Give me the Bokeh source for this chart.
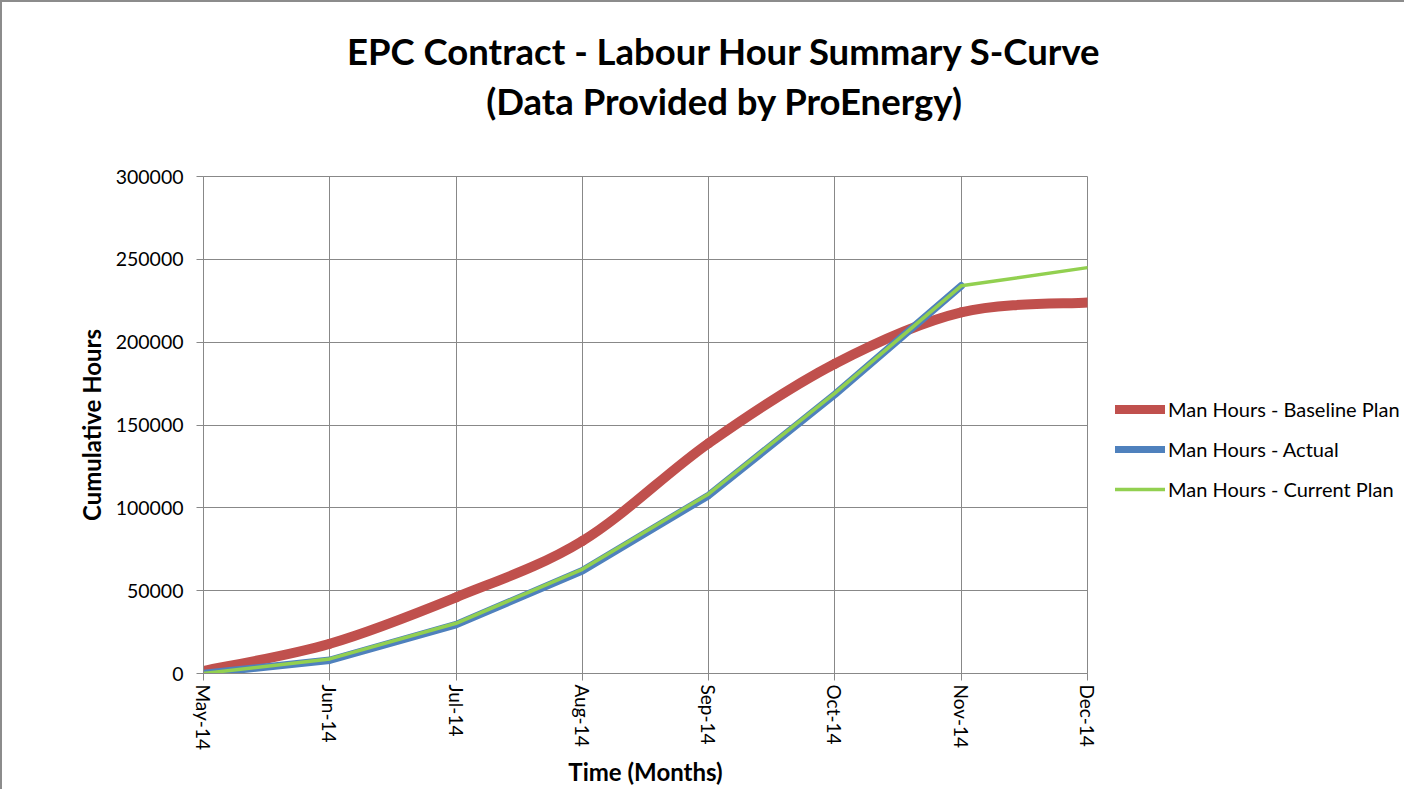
import math
from bokeh.plotting import figure
from bokeh.layouts import row, column
from bokeh.models import Range1d, FixedTicker, Legend, LegendItem, Label, ColumnDataSource
from bokeh.embed import file_html
from bokeh.resources import INLINE

# ---- data ----
months = ["May-14", "Jun-14", "Jul-14", "Aug-14", "Sep-14", "Oct-14", "Nov-14", "Dec-14"]
baseline = [1500, 18000, 46000, 80000, 139000, 187000, 218000, 224000]
actual = [0, 8000, 29500, 62000, 107500, 168500, 234000]
current = [0, 8800, 30300, 62900, 108400, 169200, 234000, 245000]
y_ticks = [0, 50000, 100000, 150000, 200000, 250000, 300000]
y_tick_labels = ["0", "50000", "100000", "150000", "200000", "250000", "300000"]

title_line1 = "EPC Contract - Labour Hour Summary S-Curve"
title_line2 = "(Data Provided by ProEnergy)"
series_names = ["Man Hours - Baseline Plan", "Man Hours - Actual", "Man Hours - Current Plan"]

RED = "#C0504D"
BLUE = "#4F81BD"
GREEN = "#92D050"
GRID = "#888888"
FONT = "Lato"

# smoothed (Excel-like Catmull-Rom Bezier) segments for the baseline plan
xs = list(range(len(baseline)))
n = len(baseline)
seg = dict(x0=[], y0=[], x1=[], y1=[], cx0=[], cy0=[], cx1=[], cy1=[])
for i in range(n - 1):
    pm = max(i - 1, 0)
    pp = min(i + 2, n - 1)
    seg["x0"].append(xs[i]); seg["y0"].append(baseline[i])
    seg["x1"].append(xs[i + 1]); seg["y1"].append(baseline[i + 1])
    seg["cx0"].append(xs[i] + (xs[i + 1] - xs[pm]) / 6.0)
    seg["cy0"].append(baseline[i] + (baseline[i + 1] - baseline[pm]) / 6.0)
    seg["cx1"].append(xs[i + 1] - (xs[pp] - xs[i]) / 6.0)
    seg["cy1"].append(baseline[i + 1] - (baseline[pp] - baseline[i]) / 6.0)
seg_src = ColumnDataSource(seg)


def blank_fig(w, h, xr=(0, 1), yr=(0, 1)):
    f = figure(width=w, height=h, x_range=Range1d(*xr), y_range=Range1d(*yr),
               output_backend="svg", toolbar_location=None,
               x_axis_location=None, y_axis_location=None,
               min_border_left=0, min_border_right=0, min_border_top=0, min_border_bottom=0)
    f.grid.visible = False
    f.outline_line_color = None
    return f


# ---- title area ----
top = blank_fig(1400, 149)
for txt, yy in zip([title_line1, title_line2], [101, 51]):
    top.add_layout(Label(x=722, y=yy, x_units="screen", y_units="screen", text=txt,
                         text_align="center", text_baseline="middle",
                         text_font=FONT, text_font_style="bold",
                         text_font_size="36.5px", text_color="#000000"))

# ---- main chart ----
p = figure(width=1100, height=638,
           x_range=Range1d(0, len(months) - 1), y_range=Range1d(0, 300000),
           output_backend="svg", toolbar_location=None,
           min_border_left=201, min_border_right=15,
           min_border_top=25, min_border_bottom=116)
p.outline_line_color = GRID
p.outline_line_width = 1

p.xaxis.ticker = FixedTicker(ticks=list(range(len(months))))
p.xaxis.major_label_overrides = {i: m for i, m in enumerate(months)}
p.xaxis.major_label_orientation = -math.pi / 2
p.yaxis.ticker = FixedTicker(ticks=y_ticks)
p.yaxis.major_label_overrides = {t: l for t, l in zip(y_ticks, y_tick_labels)}
for ax in (p.xaxis[0], p.yaxis[0]):
    ax.axis_line_color = GRID
    ax.major_tick_line_color = GRID
    ax.minor_tick_line_color = None
    ax.major_tick_in = 0
    ax.major_tick_out = 7
    ax.major_label_text_font = FONT
    ax.major_label_text_color = "#000000"
    ax.axis_label_text_font = FONT
    ax.axis_label_text_font_style = "bold"
    ax.axis_label_text_font_size = "24px"
    ax.axis_label_text_color = "#000000"
p.yaxis.major_label_text_font_size = "19.5px"
p.xaxis.major_label_text_font_size = "19px"
p.xaxis.major_label_standoff = 4
p.xaxis.axis_label_standoff = 4
p.yaxis.major_label_standoff = 13
p.yaxis.axis_label_standoff = 7
p.xaxis.axis_label = "Time (Months)"
p.yaxis.axis_label = "Cumulative Hours"

p.xgrid.ticker = FixedTicker(ticks=list(range(len(months))))
p.ygrid.ticker = FixedTicker(ticks=y_ticks)
p.grid.grid_line_color = GRID
p.grid.grid_line_width = 1

p.bezier(x0="x0", y0="y0", x1="x1", y1="y1", cx0="cx0", cy0="cy0",
         cx1="cx1", cy1="cy1", source=seg_src,
         line_color=RED, line_width=10, line_cap="round")
p.line(list(range(len(actual))), actual, line_color=BLUE, line_width=7.5,
       line_cap="round", line_join="round")
p.line(list(range(len(current))), current, line_color=GREEN, line_width=3.5,
       line_cap="round", line_join="round")

# ---- legend area: same series, ranges chosen so only the legend is visible ----
leg = blank_fig(302, 638, xr=(100, 101), yr=(-2, -1))
series_data = [baseline, actual, current]
styles = [(RED, 9), (BLUE, 7), (GREEN, 3.5)]
items = []
for name, vals, (col, lw) in zip(series_names, series_data, styles):
    r = leg.line(x=list(range(len(vals))), y=vals, line_color=col, line_width=lw,
                 line_cap="round")
    items.append(LegendItem(label=name, renderers=[r]))
legend = Legend(items=items, location=(13, 172), orientation="vertical",
                glyph_width=50, glyph_height=20, label_height=20, spacing=16,
                padding=0, margin=0, label_standoff=3,
                border_line_color=None, background_fill_alpha=0,
                label_text_font=FONT, label_text_font_size="20px",
                label_text_color="#000000")
leg.add_layout(legend)

layout = column(top, row(p, leg, spacing=0), spacing=0)
layout.styles = {"border-left": "2px solid #8c8c8c", "border-top": "2px solid #8c8c8c"}

open("out.html", "w").write(file_html(layout, INLINE))
